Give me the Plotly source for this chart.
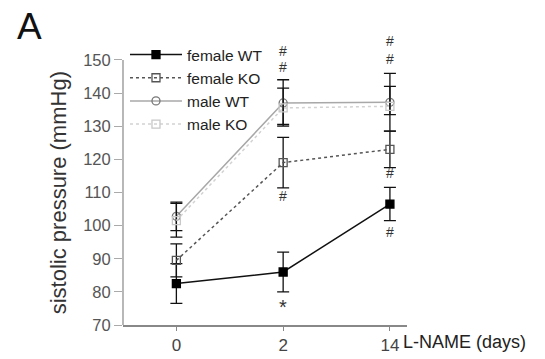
import plotly.graph_objects as go

days = ["0", "2", "14"]

female_wt = [82.5, 86.0, 106.5]
female_wt_err = [6.0, 6.0, 5.0]
female_ko = [89.5, 119.0, 123.0]
female_ko_err = [5.0, 7.6, 5.5]
male_wt = [102.8, 137.0, 137.2]
male_wt_err = [4.3, 7.0, 8.7]
male_ko = [101.5, 135.5, 136.0]
male_ko_plus = [5.2, 6.0, 6.0]
male_ko_minus = [5.0, 5.0, 2.5]

# significance marks: (day, value, text)
sig_days = ["2", "2", "2", "14", "14", "14", "14", "2"]
sig_vals = [152.6, 148.0, 109.0, 155.8, 150.3, 116.0, 98.0, 75.4]
sig_text = ["#", "#", "#", "#", "#", "#", "#", "*"]

yticks = [70, 80, 90, 100, 110, 120, 130, 140, 150]

FONT = "Arial, Liberation Sans, sans-serif"

fig = go.Figure()

def add(name, y, color, dash, symbol, mcolor, mline, size, eplus, eminus=None):
    err = dict(type="data", array=eplus, color="#111111", thickness=1.3, width=6, visible=True)
    if eminus is not None:
        err["arrayminus"] = eminus
        err["symmetric"] = False
    fig.add_trace(go.Scatter(
        x=days, y=y, name=name, mode="lines+markers",
        line=dict(color=color, width=1.5, dash=dash),
        marker=dict(symbol=symbol, size=size, color=mcolor, line=dict(color=mline, width=1.3)),
        error_y=err, cliponaxis=False,
    ))

add("female WT", female_wt, "#111111", "solid", "square", "#000000", "#000000", 8, female_wt_err)
add("female KO", female_ko, "#555555", "dot", "square-open", "#555555", "#555555", 8, female_ko_err)
add("male WT", male_wt, "#a8a8a8", "solid", "circle-open", "#777777", "#777777", 8, male_wt_err)
add("male KO", male_ko, "#d2d2d2", "dot", "square-open", "#c8c8c8", "#c8c8c8", 8, male_ko_plus, male_ko_minus)

for d, v, t in zip(sig_days, sig_vals, sig_text):
    fig.add_annotation(x=days.index(d), y=v, xref="x", yref="y", text=t, showarrow=False,
                       font=dict(family=FONT, size=14 if t == "#" else 20, color="#333333"))

fig.add_annotation(x=-0.382, y=1.049, xref="paper", yref="paper", text="A", showarrow=False,
                   xanchor="left", yanchor="middle", font=dict(family=FONT, size=37, color="#111111"))
fig.add_annotation(x=0.978, y=0, xref="paper", yref="paper", text="L-NAME (days)", showarrow=False,
                   xanchor="left", yanchor="middle", yshift=-17,
                   font=dict(family=FONT, size=18, color="#222222"))
fig.add_annotation(x=-0.228, y=0.463, xref="paper", yref="paper", text="sistolic pressure (mmHg)",
                   showarrow=False, textangle=-90, xanchor="center", yanchor="middle",
                   font=dict(family=FONT, size=22, color="#333333"))

# y axis line drawn only up to the top tick
fig.add_shape(type="line", xref="paper", yref="y", x0=0, x1=0, y0=yticks[0], y1=yticks[-1],
              line=dict(color="#888888", width=1.2))

fig.update_layout(
    width=545, height=359,
    margin=dict(l=123, r=138, t=40, b=34, autoexpand=False),
    paper_bgcolor="white", plot_bgcolor="white",
    font=dict(family=FONT, size=16, color="#444444"),
    showlegend=True,
    legend=dict(x=0.007, y=1.007, xanchor="left", yanchor="top", bgcolor="rgba(0,0,0,0)",
                font=dict(size=15.5, color="#222222"), itemwidth=52, tracegroupgap=0),
    xaxis=dict(type="category", categoryorder="array", categoryarray=days, range=[-0.5, 2.16],
               showgrid=False, zeroline=False, showline=True, linecolor="#888888", linewidth=1.5,
               ticks="outside", ticklen=4, tickcolor="#888888", tickfont=dict(size=17, color="#444444")),
    yaxis=dict(range=[70, 156], tickvals=yticks, showgrid=False, zeroline=False, showline=False,
               ticks="outside", ticklen=8, tickcolor="#aaaaaa",
               tickfont=dict(size=16.5, color="#555555")),
)

fig.write_html("out.html", config={"displayModeBar": False},
               post_script="document.body.style.margin='0';document.body.style.padding='0';")
